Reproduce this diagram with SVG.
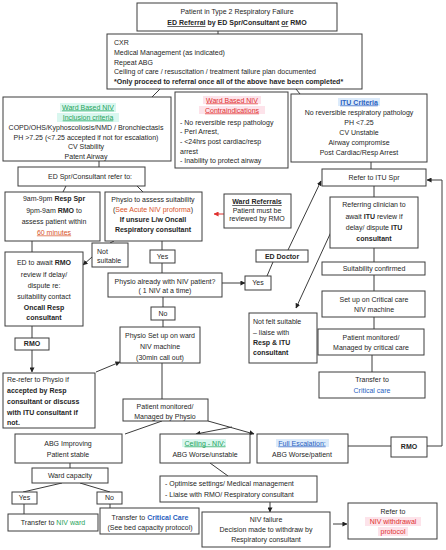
<svg xmlns="http://www.w3.org/2000/svg" width="446" height="550" viewBox="0 0 446 550">
<style>
.box{fill:#fff;stroke:#3c3c3c;stroke-width:1}
text{font-family:"Liberation Sans",Arial,sans-serif;font-size:7px;fill:#262626;text-anchor:middle}
.l{text-anchor:start}
.b{font-weight:bold}
.u{text-decoration:underline}
.ln{fill:none;stroke:#3c3c3c;stroke-width:1}
.grn{fill:#1fa35a}
.blu{fill:#2a5fc0}
.red{fill:#e0302f}
.org{fill:#d8542a}
.hg{fill:#d9f7ef}
.hb{fill:#dcebfb}
.hr{fill:#fde3ea}
</style>
<defs>
<marker id="a" viewBox="0 0 6 6" refX="5.5" refY="3" markerWidth="5" markerHeight="5" markerUnits="userSpaceOnUse" orient="auto"><path d="M0,0 L6,3 L0,6 z" fill="#222"/></marker>
<marker id="ar" viewBox="0 0 6 6" refX="5.5" refY="3" markerWidth="5" markerHeight="5" markerUnits="userSpaceOnUse" orient="auto"><path d="M0,0 L6,3 L0,6 z" fill="#e0302f"/></marker>
</defs>
<rect width="446" height="550" fill="#fff"/>

<g id="connectors">
<path class="ln" d="M218,31 V34"/>
<path class="ln" d="M160,89 L152,97"/>
<path class="ln" d="M296,89 L300,94"/>
<path class="ln" d="M371,162 V169"/>
<path class="ln" d="M99,161 V167"/>
<path class="ln" d="M66,186 L63,192"/>
<path class="ln" d="M137,186 L143,192"/>
<path d="M224,214 H214" fill="none" stroke="#e0302f" stroke-width="1" marker-end="url(#ar)"/>
<path class="ln" d="M374,186 V197"/>
<path class="ln" d="M288,250 L321,181" marker-end="url(#a)"/>
<path class="ln" d="M273,262 L267,276"/>
<path class="ln" d="M331,232 L296,308" marker-end="url(#a)"/>
<path class="ln" d="M427,446 H442 V180 H427" marker-end="url(#a)"/>
<path class="ln" d="M374,248 V262"/>
<path class="ln" d="M374,275 V291"/>
<path class="ln" d="M374,317 V329"/>
<path class="ln" d="M372,355 V372"/>
<path class="ln" d="M222,283 H245" marker-end="url(#a)"/>
<path class="ln" d="M162,241 V250"/>
<path class="ln" d="M162,263 V273"/>
<path class="ln" d="M114,241 L110,243"/>
<path class="ln" d="M92,257 L83,265" marker-end="url(#a)"/>
<path class="ln" d="M32,241 V252"/>
<path class="ln" d="M32,326 V338"/>
<path class="ln" d="M32,350 V372" marker-end="url(#a)"/>
<path class="ln" d="M96,372 L120,362" marker-end="url(#a)"/>
<path class="ln" d="M163,297 V307"/>
<path class="ln" d="M163,320 V327"/>
<path class="ln" d="M162,363 V399"/>
<path class="ln" d="M162,421 L125,434"/>
<path class="ln" d="M208,421 L254,434" marker-end="url(#a)"/>
<path class="ln" d="M232,427 L196,434" marker-end="url(#a)"/>
<path class="ln" d="M70,463 V468"/>
<path class="ln" d="M62,483 L23,492"/>
<path class="ln" d="M80,483 L110,492"/>
<path class="ln" d="M24,504 V514"/>
<path class="ln" d="M110,504 V508"/>
<path class="ln" d="M348,446 H391"/>
<path class="ln" d="M210,463 L228,476"/>
<path class="ln" d="M270,502 V512" marker-end="url(#a)"/>
<path class="ln" d="M333,524 H347" marker-end="url(#a)"/>
</g>

<g id="n_top">
<rect class="box" x="137" y="3" width="200" height="28"/>
<text x="237" y="14">Patient in Type 2 Respiratory Failure</text>
<text x="237" y="25" class="b"><tspan class="u">ED Referral</tspan> by ED Spr/Consultant <tspan class="u">or</tspan> RMO</text>
</g>

<g id="n_mgmt">
<rect class="box" x="107" y="34" width="255" height="55"/>
<text class="l" x="114" y="44.5" font-size="6.6">CXR</text>
<text class="l" x="114" y="54.5" font-size="6.6">Medical Management (as indicated)</text>
<text class="l" x="114" y="64.5" font-size="6.6">Repeat ABG</text>
<text class="l" x="114" y="73.5" font-size="6.5">Ceiling of care / resuscitation / treatment failure plan documented</text>
<text class="l b" x="114" y="83.5" font-size="6.1">*Only proceed to referral once all of the above have been completed*</text>
</g>

<g id="n_inclusion">
<rect class="box" x="3" y="97" width="168" height="64"/>
<rect class="hg" x="60" y="103" width="56" height="9"/>
<rect class="hg" x="57" y="113" width="62" height="9"/>
<text x="88" y="109.5" class="u grn">Ward Based NIV</text>
<text x="88" y="119.5" class="u grn">Inclusion criteria</text>
<text x="86" y="129.5" font-size="6.7">COPD/OHS/Kyphoscoliosis/NMD / Bronchiectasis</text>
<text x="86" y="139.5" font-size="6.7">PH &gt;7.25 (&lt;7.25 accepted if not for escalation)</text>
<text x="86" y="148.5">CV Stability</text>
<text x="86" y="158.5">Patent Airway</text>
</g>

<g id="n_contra">
<rect class="box" x="175" y="92" width="113" height="76"/>
<rect class="hr" x="203" y="96" width="58" height="8"/>
<rect class="hr" x="199" y="106" width="66" height="8"/>
<text x="232" y="102.5" class="u red">Ward Based NIV</text>
<text x="232" y="112.5" class="u red">Contraindications</text>
<text class="l" x="180" y="124.5" font-size="6">- No reversible resp pathology</text>
<text class="l" x="180" y="133.5" font-size="6">- Peri Arrest,</text>
<text class="l" x="180" y="143.5" font-size="6">-  &lt;24hrs  post cardiac/resp</text>
<text class="l" x="180" y="153.5" font-size="6">arrest</text>
<text class="l" x="180" y="162.5" font-size="6">- Inability to protect airway</text>
</g>

<g id="n_itu">
<rect class="box" x="291" y="94" width="136" height="68"/>
<rect class="hb" x="338" y="98" width="42" height="8"/>
<text x="359" y="104.5" class="u blu b" font-size="6.4">ITU Criteria</text>
<text x="359" y="114.5" font-size="6.4">No reversible respiratory pathology</text>
<text x="359" y="124.5" font-size="6.4">PH &lt;7.25</text>
<text x="359" y="134.5" font-size="6.4">CV Unstable</text>
<text x="359" y="144.5" font-size="6.4">Airway compromise</text>
<text x="359" y="154.5" font-size="6.4">Post Cardiac/Resp Arrest</text>
</g>

<g id="n_edspr">
<rect class="box" x="18" y="167" width="127" height="19"/>
<text x="90" y="178.5" font-size="7.4">ED Spr/Consultant refer to:</text>
</g>

<g id="n_9am">
<rect class="box" x="5" y="192" width="95" height="49"/>
<text x="54" y="200.5" font-size="7.8">9am-9pm <tspan class="b">Resp Spr</tspan></text>
<text x="54" y="212.5" font-size="7.8">9pm-9am <tspan class="b">RMO</tspan> to</text>
<text x="54" y="223.5" font-size="7.8">assess patient within</text>
<text x="54" y="234.5" font-size="7.8" class="u org">60 minutes</text>
</g>

<g id="n_physio_assess">
<rect class="box" x="105" y="192" width="97" height="49"/>
<text x="153" y="201.5">Physio to assess suitability</text>
<text x="153" y="212" font-size="6.8">(<tspan class="org">See Acute NIV proforma</tspan>)</text>
<text x="153" y="221.5" class="b" font-size="6.2">If unsure L/w Oncall</text>
<text x="153" y="231.5" class="b" font-size="6.2">Respiratory consultant</text>
</g>

<g id="n_wardref">
<rect class="box" x="224" y="194" width="67" height="34"/>
<text x="257" y="204" class="b u" font-size="5.8">Ward Referrals</text>
<text x="257" y="212.5" font-size="5.8">Patient must be</text>
<text x="257" y="221" font-size="5.8">reviewed by RMO</text>
</g>

<g id="n_refer_itu">
<rect class="box" x="322" y="169" width="104" height="17"/>
<text x="374" y="180">Refer to ITU Spr</text>
</g>

<g id="n_referring">
<rect class="box" x="330" y="197" width="88" height="51"/>
<text x="374" y="206.5" font-size="7.4">Referring clinician to</text>
<text x="374" y="218.5" font-size="7.4">await <tspan class="b">ITU</tspan> review if</text>
<text x="374" y="229.5" font-size="7.4">delay/ dispute <tspan class="b">ITU</tspan></text>
<text x="374" y="240.5" font-size="7.4" class="b">consultant</text>
</g>

<g id="n_eddoctor">
<rect class="box" x="256" y="250" width="52" height="12"/>
<text x="282" y="258.5" font-size="5.4" class="b">ED Doctor</text>
</g>

<g id="n_suit">
<rect class="box" x="322" y="262" width="103" height="13"/>
<text x="374" y="270.8" font-size="6.8">Suitability confirmed</text>
</g>

<g id="n_setup_cc">
<rect class="box" x="322" y="291" width="103" height="26"/>
<text x="374" y="301.5" font-size="6.8">Set up on Critical care</text>
<text x="374" y="311.5" font-size="6.8">NIV machine</text>
</g>

<g id="n_mon_cc">
<rect class="box" x="318" y="329" width="106" height="26"/>
<text x="371" y="339.5" font-size="6.8">Patient monitored/</text>
<text x="371" y="350" font-size="6.8">Managed by critical care</text>
</g>

<g id="n_transfer_cc">
<rect class="box" x="319" y="372" width="106" height="26"/>
<text x="372" y="381.5" font-size="6.8">Transfer to</text>
<text x="372" y="392.5" font-size="6.8" class="blu">Critical care</text>
</g>

<g id="n_notfelt">
<rect class="box" x="249" y="313" width="68" height="50"/>
<text class="l" x="253" y="323.5" font-size="7.2">Not felt suitable</text>
<text class="l" x="253" y="334.5" font-size="7.2">– liaise with</text>
<text class="l b" x="253" y="344.5" font-size="7.2">Resp &amp; ITU</text>
<text class="l b" x="253" y="354.5" font-size="7.2">consultant</text>
</g>

<g id="n_yes_right">
<rect class="box" x="245" y="276" width="26" height="14"/>
<text x="258" y="285.3" font-size="5.4">Yes</text>
</g>

<g id="n_physio_already">
<rect class="box" x="108" y="273" width="114" height="24"/>
<text x="165" y="283.5" font-size="6.3">Physio already with NIV patient?</text>
<text x="165" y="293" font-size="6.3">( 1 NIV at a time)</text>
</g>

<g id="n_yes_mid">
<rect class="box" x="150" y="250" width="25" height="13"/>
<text x="162.5" y="259" font-size="5.4">Yes</text>
</g>

<g id="n_notsuitable">
<rect class="box" x="92" y="243" width="36" height="24"/>
<text class="l" x="97" y="253.5" font-size="5.6">Not</text>
<text class="l" x="97" y="262.5" font-size="5.6">suitable</text>
</g>

<g id="n_edawait">
<rect class="box" x="5" y="252" width="78" height="74"/>
<text x="44" y="264.5" font-size="7.5">ED to await <tspan class="b">RMO</tspan></text>
<text x="44" y="276.5" font-size="7.5">review if delay/</text>
<text x="44" y="287.5" font-size="7.5">dispute re:</text>
<text x="44" y="298.5" font-size="7.5">suitability  contact</text>
<text x="44" y="309.5" font-size="7.5" class="b">Oncall Resp</text>
<text x="44" y="319.5" font-size="7.5" class="b">consultant</text>
</g>

<g id="n_rmo_left">
<rect class="box" x="15" y="338" width="34" height="12"/>
<text x="32" y="346.2" font-size="5.4" class="b">RMO</text>
</g>

<g id="n_rerefer">
<rect class="box" x="3" y="373" width="92" height="55"/>
<text class="l" x="7" y="381.5" font-size="7.1">Re-refer to Physio if</text>
<text class="l b" x="7" y="392.5" font-size="7.1">accepted by Resp</text>
<text class="l b" x="7" y="403.5" font-size="7.1">consultant or discuss</text>
<text class="l b" x="7" y="414.5" font-size="7.1">with ITU consultant if</text>
<text class="l b" x="7" y="424.5" font-size="7.1">not.</text>
</g>

<g id="n_physio_setup">
<rect class="box" x="120" y="327" width="80" height="36"/>
<text x="160" y="337.5" font-size="7.1">Physio Set up on ward</text>
<text x="160" y="348.5" font-size="7.1">NIV machine</text>
<text x="160" y="359.5" font-size="7.1">(30min call out)</text>
</g>

<g id="n_no_mid">
<rect class="box" x="151" y="307" width="24" height="13"/>
<text x="163" y="315.8" font-size="5.4">No</text>
</g>

<g id="n_mon_physio">
<rect class="box" x="123" y="399" width="85" height="22"/>
<text x="165" y="408.5" font-size="7">Patient monitored/</text>
<text x="165" y="418.5" font-size="7">Managed by Physio</text>
</g>

<g id="n_abg_improving">
<rect class="box" x="15" y="434" width="107" height="29"/>
<text x="68" y="445.5">ABG Improving</text>
<text x="68" y="456.5">Patient stable</text>
</g>

<g id="n_wardcap">
<rect class="box" x="32" y="468" width="76" height="15"/>
<text x="70" y="478.3">Ward capacity</text>
</g>

<g id="n_yes_low">
<rect class="box" x="12" y="492" width="25" height="12"/>
<text x="24.5" y="500.3" font-size="5.2">Yes</text>
</g>

<g id="n_no_low">
<rect class="box" x="97" y="492" width="25" height="12"/>
<text x="109.5" y="500.3" font-size="5.2">No</text>
</g>

<g id="n_transfer_ward">
<rect class="box" x="8" y="514" width="90" height="17"/>
<text x="53" y="525.3" font-size="7.4">Transfer to <tspan class="grn">NIV ward</tspan></text>
</g>

<g id="n_transfer_cc2">
<rect class="box" x="100" y="508" width="99" height="26"/>
<text x="150" y="519.5" font-size="7">Transfer to <tspan class="blu b">Critical Care</tspan></text>
<text x="150" y="530" font-size="5.5">(See bed capacity protocol)</text>
</g>

<g id="n_ceiling">
<rect class="box" x="160" y="434" width="90" height="29"/>
<rect class="hg" x="182" y="439" width="44" height="8"/>
<text x="205" y="445.5" class="u grn">Ceiling - NIV:</text>
<text x="205" y="456.5">ABG Worse/unstable</text>
</g>

<g id="n_full">
<rect class="box" x="257" y="434" width="91" height="29"/>
<rect class="hb" x="276" y="439" width="53" height="8"/>
<text x="302" y="445.5" class="u blu">Full Escalation:</text>
<text x="302" y="456.5">ABG Worse/patient</text>
</g>

<g id="n_rmo_right">
<rect class="box" x="391" y="437" width="36" height="20"/>
<text x="409" y="449" font-size="5.4" class="b">RMO</text>
</g>

<g id="n_optimise">
<rect class="box" x="160" y="476" width="157" height="26"/>
<text class="l" x="165" y="485.5">- Optimise settings/ Medical management</text>
<text class="l" x="165" y="496.5">- Liaise with RMO/ Respiratory consultant</text>
</g>

<g id="n_nivfail">
<rect class="box" x="202" y="512" width="128" height="35"/>
<text x="266" y="522" font-size="5.8">NIV failure</text>
<text x="266" y="532" font-size="5.8">Decision made to withdraw by</text>
<text x="266" y="542" font-size="5.8">Respiratory consultant</text>
</g>

<g id="n_withdraw">
<rect class="box" x="348" y="503" width="89" height="36"/>
<rect class="hr" x="365" y="517" width="56" height="9"/>
<rect class="hr" x="378" y="527" width="30" height="9"/>
<text x="393" y="513.5" font-size="6.8">Refer to</text>
<text x="393" y="523.5" font-size="6.8" class="red">NIV withdrawal</text>
<text x="393" y="533.5" font-size="6.8" class="red">protocol</text>
</g>
</svg>
